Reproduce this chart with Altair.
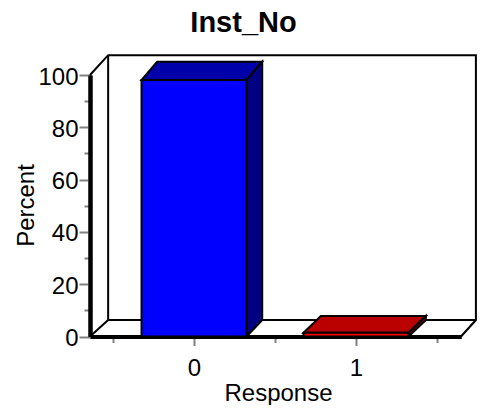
import altair as alt
import pandas as pd

FONT = "Liberation Sans"
X_DOM = [-0.642, 1.648]
Y_DOM = [0, 100]

# axis values
x_major = [0, 1]
x_minor = [-0.5, 0.5, 1.5]
y_major = [0, 20, 40, 60, 80, 100]
y_minor = [10, 30, 50, 70, 90]

# bars
cats = [0, 1]
values = [98.1, 1.45]
half_w = 0.324
bar_dx = [0.097, 0.107]
floor_y = 6.3
bar_dy = [7.0, 6.4]
front_col = ["#0000ff", "#ff0000"]
top_col = ["#0000aa", "#bb0000"]
side_col = ["#000080", "#800000"]

# frame paths
frame_path = [0, 0, 0, 0, 0, 1, 1, 1, 2, 2]
frame_x = [-0.642, -0.53, 1.74, 1.74, 1.648, -0.53, -0.53, -0.642, -0.53, 1.74]
frame_y = [100, 107.6, 107.6, 6.3, 0, 107.6, 6.3, 0, 6.3, 6.3]


def xs(field, axis=None):
    return alt.X(field, type="quantitative", scale=alt.Scale(domain=X_DOM, nice=False, zero=False), axis=axis)


def ys(field, axis=None):
    return alt.Y(field, type="quantitative", scale=alt.Scale(domain=Y_DOM, nice=False, zero=False), axis=axis)


layers = []

frame_df = pd.DataFrame({"p": frame_path, "x": frame_x, "y": frame_y, "o": range(len(frame_x))})
layers.append(
    alt.Chart(frame_df).mark_line(color="black", strokeWidth=2).encode(
        x=xs("x"), y=ys("y"), detail="p:N", order="o:Q"
    )
)

for i, c in enumerate(cats):
    x0, x1 = c - half_w, c + half_w
    v = values[i]
    dx, dy = bar_dx[i], bar_dy[i]
    top = pd.DataFrame({"y": [v, v + dy], "x": [x0, x0 + dx], "x2": [x1, x1 + dx]})
    layers.append(
        alt.Chart(top).mark_area(orient="horizontal", color=top_col[i], stroke="black", strokeWidth=2, opacity=1).encode(
            y=ys("y"), x=xs("x"), x2="x2:Q"
        )
    )
    side = pd.DataFrame({"x": [x1, x1 + dx], "y": [0, floor_y], "y2": [v, v + dy]})
    layers.append(
        alt.Chart(side).mark_area(orient="vertical", color=side_col[i], stroke="black", strokeWidth=2, opacity=1).encode(
            x=xs("x"), y=ys("y"), y2="y2:Q"
        )
    )
    front = pd.DataFrame({"x": [x0], "x2": [x1], "y": [0], "y2": [v]})
    layers.append(
        alt.Chart(front).mark_rect(color=front_col[i], stroke="black", strokeWidth=2).encode(
            x=xs("x"), x2="x2:Q", y=ys("y"), y2="y2:Q"
        )
    )

common = dict(domain=True, domainColor="black", domainWidth=4, tickColor="#808080", tickWidth=2, grid=False)

minor_df = pd.DataFrame({"x": [0], "y": [0]})
layers.append(
    alt.Chart(minor_df).mark_point(opacity=0).encode(
        x=xs("x", alt.Axis(orient="bottom", values=x_minor, labels=False, title=None, tickSize=6, **common)),
        y=ys("y", alt.Axis(orient="left", values=y_minor, labels=False, title=None, tickSize=6, **common)),
    )
)
layers.append(
    alt.Chart(minor_df).mark_point(opacity=0).encode(
        x=xs(
            "x",
            alt.Axis(
                orient="bottom", values=x_major, title="Response", tickSize=9, labelFont=FONT, labelFontSize=24, labelColor="black",
                labelPadding=11, format="d", titleFont=FONT, titleFontSize=24, titleFontWeight="normal",
                titleColor="black", titleX=188, titleY=63.5, titleAnchor="middle", titleAlign="center", titleBaseline="alphabetic", **common,
            ),
        ),
        y=ys(
            "y",
            alt.Axis(
                orient="left", values=y_major, title="Percent", tickSize=11, labelFont=FONT, labelFontSize=24, labelColor="black",
                labelPadding=1, labelOffset=2, format="d", titleFont=FONT, titleFontSize=24, titleFontWeight="normal",
                titleColor="black", titleX=-57, titleY=130, titleAngle=270, titleAnchor="middle", titleAlign="center", titleBaseline="alphabetic", **common,
            ),
        ),
    )
)

chart = (
    alt.layer(*layers)
    .resolve_scale(x="independent", y="independent")
    .properties(
        width=371,
        height=261.5,
        autosize=alt.AutoSizeParams(type="none"),
        padding={"left": 82, "top": 67, "right": 16, "bottom": 68},
        title=alt.TitleParams(
            "Inst_No", font=FONT, fontSize=29, fontWeight="bold", color="black", anchor="middle", dx=-32, offset=13
        ),
    )
    .configure_view(stroke=None)
)

chart.save("out.html", embed_options={"renderer": "svg", "actions": False})
